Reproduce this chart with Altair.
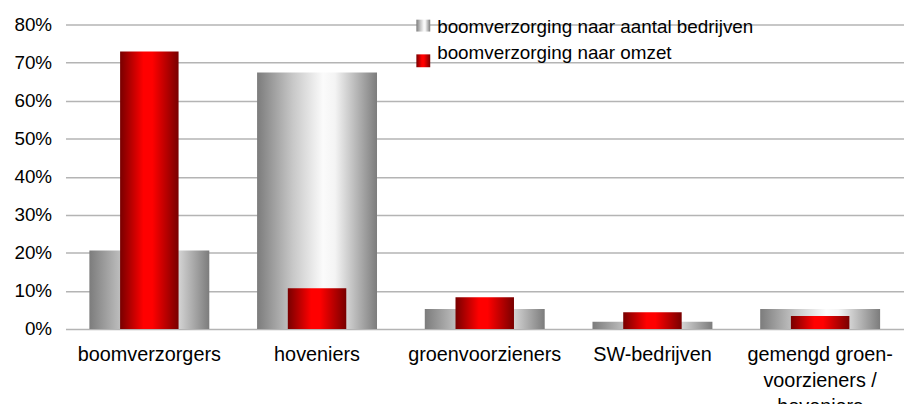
import altair as alt
import pandas as pd

categories = ["boomverzorgers", "hoveniers", "groenvoorzieners", "SW-bedrijven",
              "gemengd groen-|voorzieners /|hoveniers"]
aantal_bedrijven = [0.206, 0.674, 0.052, 0.019, 0.052]
omzet = [0.729, 0.107, 0.083, 0.044, 0.034]
series_names = ["boomverzorging naar aantal bedrijven", "boomverzorging naar omzet"]
y_ticks = [0, 0.1, 0.2, 0.3, 0.4, 0.5, 0.6, 0.7, 0.8]

df = pd.DataFrame({
    "categorie": categories * 2,
    "reeks": [series_names[0]] * 5 + [series_names[1]] * 5,
    "waarde": aantal_bedrijven + omzet,
})

FONT = "Liberation Sans"
FS = 19

gray_grad = alt.Gradient(
    gradient="linear", x1=0, x2=1, y1=0, y2=0,
    stops=[
        alt.GradientStop(color="#7c7c7c", offset=0),
        alt.GradientStop(color="#c8c8c8", offset=0.3),
        alt.GradientStop(color="#fbfbfb", offset=0.55),
        alt.GradientStop(color="#f4f4f4", offset=0.65),
        alt.GradientStop(color="#7c7c7c", offset=1),
    ],
)
red_grad = alt.Gradient(
    gradient="linear", x1=0, x2=1, y1=0, y2=0,
    stops=[
        alt.GradientStop(color="#780000", offset=0),
        alt.GradientStop(color="#ff0000", offset=0.4),
        alt.GradientStop(color="#ff0000", offset=0.55),
        alt.GradientStop(color="#780000", offset=1),
    ],
)

x_enc = alt.X(
    "categorie:N", sort=categories, title=None,
    scale=alt.Scale(paddingInner=0, paddingOuter=0),
    axis=alt.Axis(labelAngle=0, ticks=False, domain=False, labelFontSize=20,
                  labelFont=FONT, labelColor="#000000", labelPadding=16,
                  labelLineHeight=26, labelLimit=300,
                  labelExpr="split(datum.label, '|')"),
)
y_enc = alt.Y(
    "waarde:Q", title=None,
    scale=alt.Scale(domain=[0, 0.8], nice=False),
    axis=alt.Axis(values=y_ticks, format=".0%", ticks=False, domain=False,
                  grid=True, gridColor="#b4b4b4", gridWidth=1.5,
                  labelFontSize=FS, labelFont=FONT, labelColor="#000000",
                  labelPadding=14),
)

base = alt.Chart(df)
gray_bars = base.transform_filter(alt.datum.reeks == series_names[0]).mark_bar(
    size=121, fill=gray_grad
).encode(x=x_enc, y=y_enc)
red_bars = base.transform_filter(alt.datum.reeks == series_names[1]).mark_bar(
    size=59, fill=red_grad
).encode(x=x_enc, y=y_enc)

legend_df = pd.DataFrame({"reeks": series_names})
leg_gray = alt.Chart(legend_df).transform_filter(alt.datum.reeks == series_names[0]).mark_rect(
    fill=gray_grad
).encode(x=alt.value(354), x2=alt.value(368), y=alt.value(-5), y2=alt.value(7))
leg_red = alt.Chart(legend_df).transform_filter(alt.datum.reeks == series_names[1]).mark_rect(
    fill=red_grad
).encode(x=alt.value(354), x2=alt.value(368), y=alt.value(30), y2=alt.value(43))
leg_text1 = alt.Chart(legend_df).transform_filter(alt.datum.reeks == series_names[0]).mark_text(
    align="left", baseline="alphabetic", fontSize=FS, font=FONT, color="#000000"
).encode(x=alt.value(375), y=alt.value(8), text="reeks:N")
leg_text2 = alt.Chart(legend_df).transform_filter(alt.datum.reeks == series_names[1]).mark_text(
    align="left", baseline="alphabetic", fontSize=FS, font=FONT, color="#000000"
).encode(x=alt.value(375), y=alt.value(35), text="reeks:N")

chart = alt.layer(gray_bars, red_bars, leg_gray, leg_red, leg_text1, leg_text2).properties(
    width=846, height=307,
    autosize=alt.AutoSizeParams(type="none"),
    padding={"left": 58, "top": 15, "right": 0, "bottom": 74},
).configure_view(stroke=None)

chart.save("out.html", embed_options={"renderer": "svg", "actions": False})
